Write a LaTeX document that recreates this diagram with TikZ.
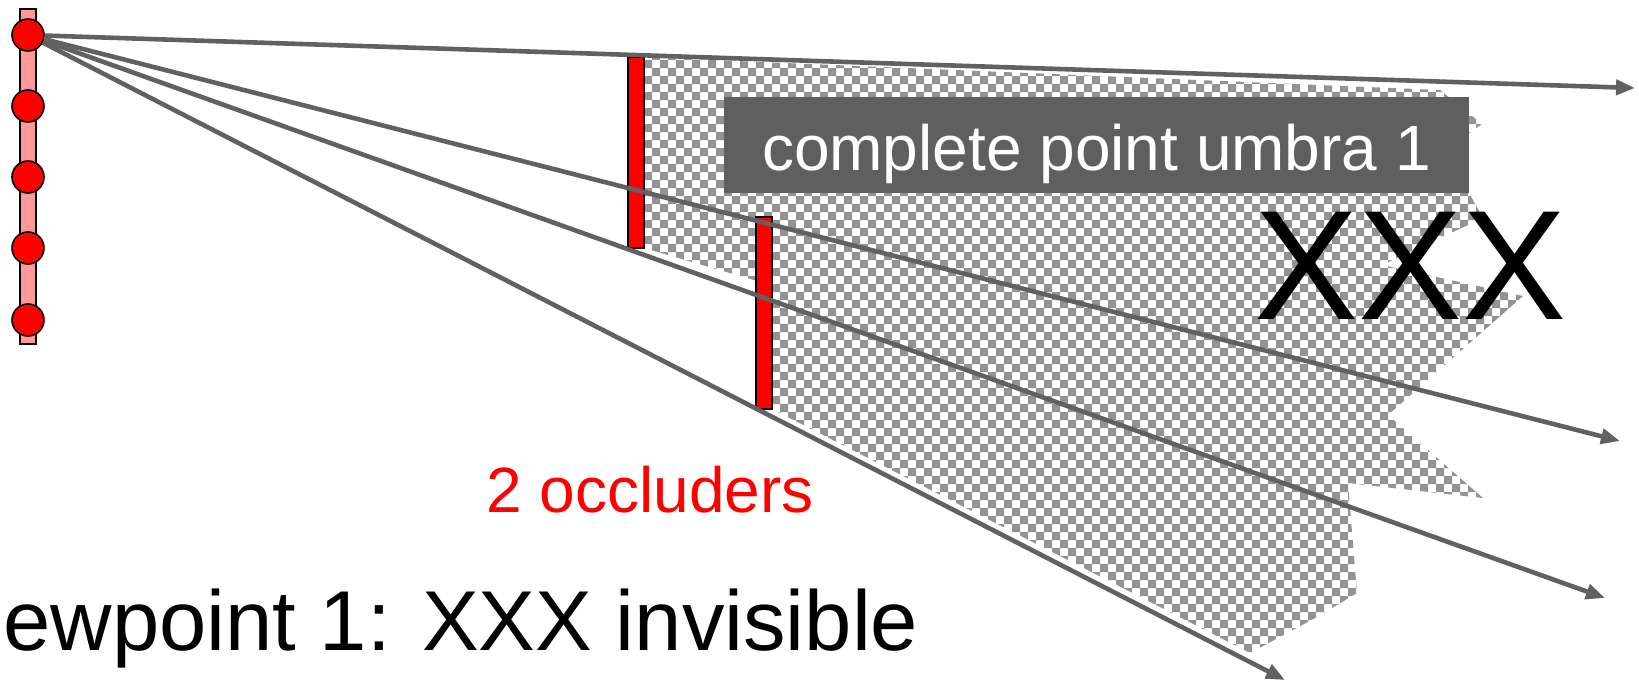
\documentclass[tikz,border=0pt]{standalone}
\usepackage{fontspec}
\setmainfont{Liberation Sans}
\usetikzlibrary{arrows.meta}

\definecolor{raygray}{HTML}{616161}
\definecolor{boxgray}{HTML}{5F5F5F}
\definecolor{checkgray}{HTML}{939393}
\definecolor{barpink}{HTML}{FF9999}

\begin{document}
\begin{tikzpicture}[x=0.5pt,y=-0.5pt,>={Triangle[length=9.5pt,width=7.5pt]},
  ray/.style={->,draw=raygray,line width=2.3pt},
  litdot/.style={circle,draw,line width=0.8pt,fill=red,minimum size=16pt,inner sep=0pt},
  occluder/.style={draw,line width=1pt,fill=red},
  label/.style={anchor=base west,inner sep=0pt}]
  \useasboundingbox (0,0) rectangle (1639,681);
  % umbra, checkered
  \begin{scope}
    \clip (640,57) -- (1440,90) -- (1482,124)
      -- (1445,150) -- (1483,218) -- (1382,265) -- (1523,296) -- (1388,415) -- (1483,498)
      -- (1348,483) -- (1357,593) -- (1317,617) -- (1250,653) -- (772,409) -- (764,409)
      -- (764,283) -- (644,248) -- cycle;
    \fill[checkgray] \foreach \r [evaluate=\r as \off using {mod(\r,2)}] in {0,...,76} {
      \foreach \c in {0,2,...,110} { (636+8*\c+8*\off,52+8*\r) rectangle ++(8,8) } };
  \end{scope}
  % viewpoints
  \filldraw[fill=barpink,line width=0.8pt] (20,9) rectangle (36,344);
  \foreach \i/\yy in {1/35,2/106,3/177,4/248,5/320}
    \node[litdot] (v\i) at (28,\yy) {};
  % occluders
  \filldraw[occluder] (628,57) rectangle (644,248);
  \filldraw[occluder] (756,217) rectangle (772,409);
  \node[fill=boxgray,text=white,inner sep=0pt,anchor=base,minimum width=372.5pt,
    text height=36.5pt,text depth=11.5pt,font=\fontsize{32}{38}\selectfont] (umbra)
    at (1096.5,170) {complete point umbra 1};
  % rays from viewpoint 1
  \coordinate (e1) at (1635,88);
  \coordinate (e2) at (1620,441);
  \coordinate (e3) at (1605,598);
  \coordinate (e4) at (1285,680);
  \foreach \k in {1,...,4}
    \draw[ray] (v1) -- (e\k);
  \node[label,font=\fontsize{78}{90}\selectfont] (xxx) at (1254,319) {XXX};
  \node[label,text=red,font=\fontsize{32}{38}\selectfont] (occlabel) at (486,512) {2 occluders};
  \node[label,font=\fontsize{42.5}{50}\selectfont] (caption) at (3,650) {ewpoint 1: XXX invisible};
\end{tikzpicture}
\end{document}
